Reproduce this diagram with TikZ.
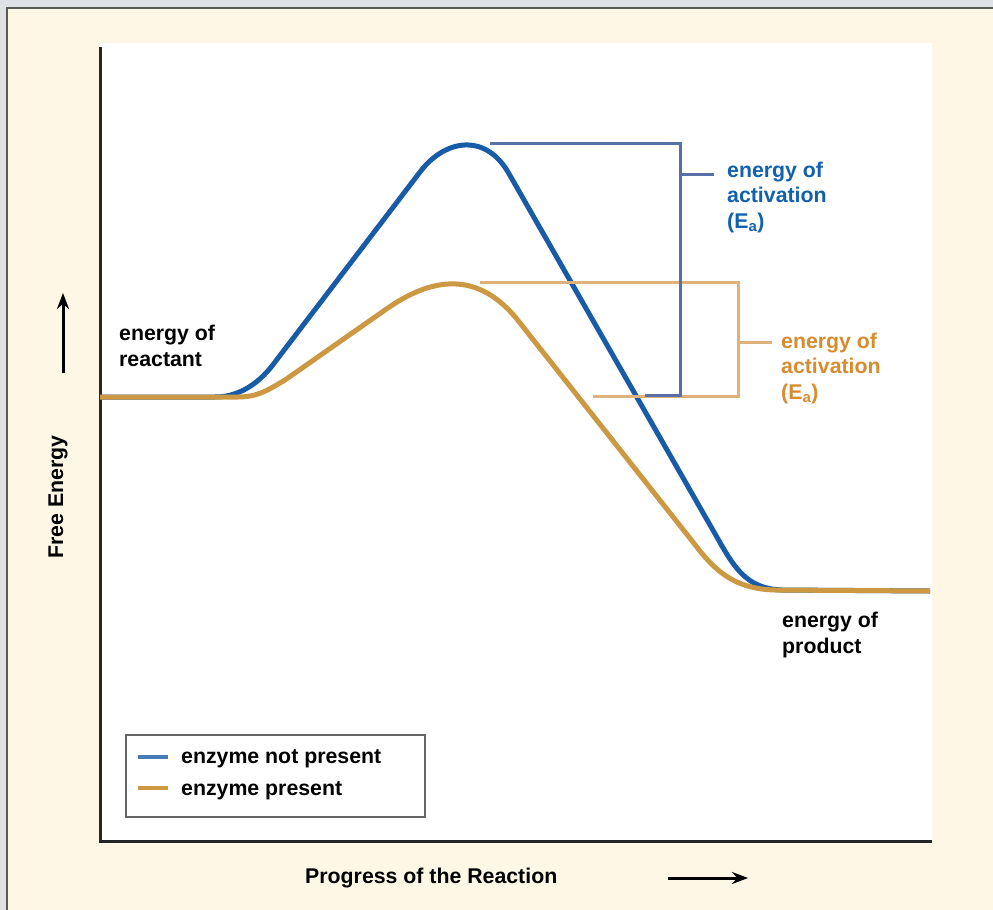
\documentclass[tikz,border=0pt]{standalone}
\usepackage{fontspec}
\setmainfont{Liberation Sans}
\usetikzlibrary{arrows.meta, positioning}
\definecolor{pagegray}{RGB}{222,226,228}
\definecolor{cream}{RGB}{254,247,230}
\definecolor{framegray}{RGB}{90,90,84}
\definecolor{nozblue}{RGB}{24,92,168}
\definecolor{enzorange}{RGB}{204,152,66}
\definecolor{eablue}{RGB}{18,96,176}
\definecolor{eaorange}{RGB}{216,140,48}
\definecolor{brkblue}{RGB}{88,112,168}
\definecolor{brkorange}{RGB}{222,178,122}

\begin{document}
\begin{tikzpicture}[
  x=1pt, y=-1pt,
  every node/.style={font=\fontsize{21.3}{25.5}\selectfont\bfseries, inner sep=0pt, align=left},
  label text/.style={anchor=base west},
  curve/.style={line width=5pt, line join=round},
  bracket/.style={line width=3pt},
  axis arrow/.style={line width=3pt, -{Stealth[length=16pt, width=12pt]}},
]
  \useasboundingbox (0,0) rectangle (993,910);
  % page, frame and plot area
  \fill[pagegray] (0,0) rectangle (993,910);
  \fill[cream] (7,8) rectangle (993,910);
  \draw[framegray, line width=2.5pt] (7,910) -- (7,8) -- (993,8);
  \fill[white] (100,43) rectangle (932,841);
  \draw[black!85, line width=3pt] (100,47) -- (100,841) -- (932,841);

  % curves
  \draw[curve, nozblue] (100,397) -- (215,397)
    .. controls (242,397) and (262,380) .. (275,362) -- (420,172)
    .. controls (445,139) and (485,133) .. (508,172) -- (722,546)
    .. controls (738,574) and (752,589) .. (782,590) -- (930,591);
  \draw[curve, enzorange] (100,397) -- (238,397)
    .. controls (258,397) and (268,390) .. (285,380) -- (385,310)
    .. controls (430,278) and (478,268) .. (520,323) -- (700,551)
    .. controls (720,576) and (740,589) .. (775,590) -- (930,591);

  % brackets
  \draw[bracket, brkorange] (480,282) -- (738,282) -- (738,396) -- (593,396);
  \draw[bracket, brkblue] (490,143) -- (680,143) -- (680,395) -- (645,395);
  \coordinate (bluetick) at (681,174);
  \coordinate (orangetick) at (739,342);

  % labels
  \node[label text] (reactant) at (119,366) {energy of\\reactant};
  \node[label text] (product) at (782,653) {energy of\\product};
  \node[label text, text=eablue] (eablue) at (727,228) {energy of\\activation\\(E\textsubscript{a})};
  \node[label text, text=eaorange] (eaorange) at (781,399) {energy of\\activation\\(E\textsubscript{a})};
  \draw[bracket, brkblue] (bluetick) -- ++(33,0);
  \draw[bracket, brkorange] (orangetick) -- ++(33,0);

  % legend
  \draw[black!60, line width=1.5pt] (126,735) rectangle (425,817);
  \node[label text] (legnone) at (181,763) {enzyme not present};
  \node[label text] (legyes) at (181,795) {enzyme present};
  \draw[nozblue!80, line width=4pt] (138,757) -- (168,757);
  \draw[enzorange, line width=4pt] (138,788) -- (168,788);

  % axis titles
  \node[anchor=base] (ytitle) at (63,497) [rotate=90] {Free Energy};
  \node[label text] (xtitle) at (305,883) {Progress of the Reaction};
  \coordinate (yarrow) at (63,373);
  \coordinate (xarrow) at (668,878);
  \draw[axis arrow] (yarrow) -- ++(0,-80);
  \draw[axis arrow] (xarrow) -- ++(80,0);
\end{tikzpicture}
\end{document}
